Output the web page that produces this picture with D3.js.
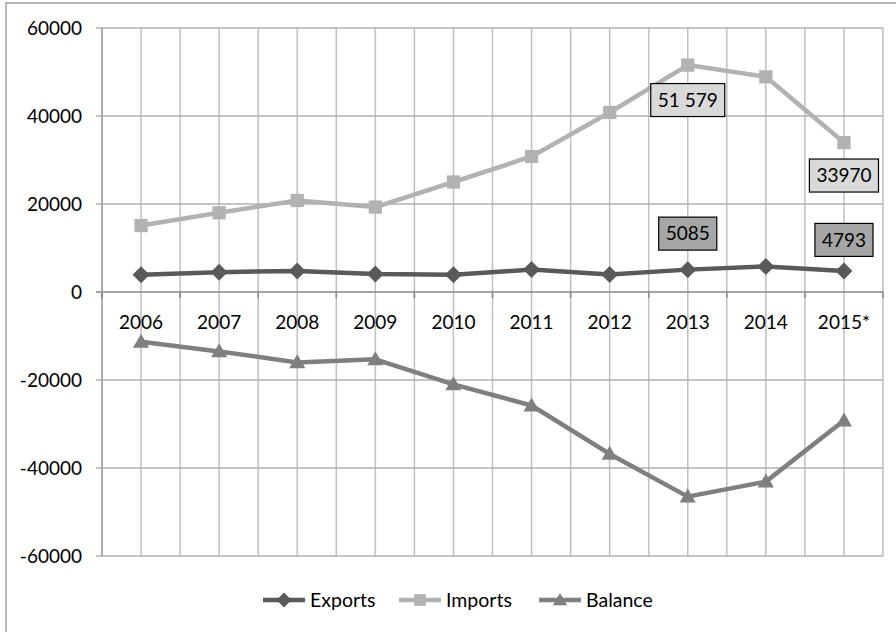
<!DOCTYPE html>
<html>
<head>
<meta charset="utf-8">
<script src="https://d3js.org/d3.v7.min.js"></script>
<style>
  body { margin: 0; background: #fff; }
  text { font-family: Lato, "Open Sans", sans-serif; fill: #000; }
</style>
</head>
<body>
<div id="chart"></div>
<script>
// data
years = ["2006","2007","2008","2009","2010","2011","2012","2013","2014","2015*"]
exports_ = [3900, 4500, 4800, 4100, 3900, 5100, 4000, 5085, 5800, 4793]
imports_ = [15100, 18000, 20800, 19300, 25000, 30800, 40800, 51579, 48900, 33970]
balance = [-11300, -13500, -16000, -15300, -21000, -25800, -36800, -46500, -43100, -29200]
yTicks = [-60000, -40000, -20000, 0, 20000, 40000, 60000]
// value labels: series, year index, text, offset above/below
labels = [
  {s: "Imports", i: 7, t: "51 579", dy: 35},
  {s: "Imports", i: 9, t: "33970", dy: 33},
  {s: "Exports", i: 7, t: "5085", dy: -36},
  {s: "Exports", i: 9, t: "4793", dy: -31}
]

width = 896
height = 632

svg = d3.select('#chart')
  .append('svg')
  .attr('width', width)
  .attr('height', height)

// outer frame
svg.append('rect')
  .attr('x', 6).attr('y', 3)
  .attr('width', 900).attr('height', 640)
  .attr('fill', 'none')
  .attr('stroke', '#a0a0a0')
  .attr('stroke-width', 1.5)

x = d3.scaleBand().domain(years).range([102, 883])
y = d3.scaleLinear().domain([-60000, 60000]).range([556, 28])
cx = d => x(d) + x.bandwidth() / 2

series = [
  {name: "Exports", values: exports_, color: "#595959", marker: "diamond"},
  {name: "Imports", values: imports_, color: "#b2b2b2", marker: "square"},
  {name: "Balance", values: balance, color: "#7f7f7f", marker: "triangle"}
]

grid = svg.append('g')

// vertical grid at band edges and centers
vlines = []
years.forEach(d => { vlines.push(x(d)); vlines.push(cx(d)) })
vlines.push(x.range()[1])
grid.selectAll('.v').data(vlines).enter().append('line')
  .attr('x1', d => d).attr('x2', d => d)
  .attr('y1', y(60000)).attr('y2', y(-60000))
  .attr('stroke', '#c0c0c0').attr('stroke-width', 1.5)

// horizontal grid
grid.selectAll('.h').data(yTicks).enter().append('line')
  .attr('x1', 96).attr('x2', 883)
  .attr('y1', d => y(d)).attr('y2', d => y(d))
  .attr('stroke', d => d == 0 ? '#878787' : '#b0b0b0')
  .attr('stroke-width', 1.5)

// y axis line
grid.append('line')
  .attr('x1', 102).attr('x2', 102)
  .attr('y1', y(60000)).attr('y2', y(-60000))
  .attr('stroke', '#a0a0a0').attr('stroke-width', 1.5)

// x-axis ticks at band edges
edges = years.map(d => x(d)).concat([x.range()[1]])
grid.selectAll('.t').data(edges).enter().append('line')
  .attr('x1', d => d).attr('x2', d => d)
  .attr('y1', y(0)).attr('y2', y(0) + 6)
  .attr('stroke', '#878787').attr('stroke-width', 1.5)

// y tick labels
svg.selectAll('.yl').data(yTicks).enter().append('text')
  .attr('x', 82)
  .attr('y', d => y(d))
  .attr('dy', '0.36em')
  .attr('text-anchor', 'end')
  .style('font-size', '19px')
  .text(d => d)

// x labels
svg.selectAll('.xl').data(years).enter().append('text')
  .attr('x', d => cx(d))
  .attr('y', y(0) + 30)
  .attr('dy', '0.36em')
  .attr('text-anchor', 'middle')
  .style('font-size', '19px')
  .text(d => d)

function marker(g, type, color, s) {
  if (type == "diamond") {
    g.append('path').attr('d', `M0,${-s}L${s},0L0,${s}L${-s},0Z`).attr('fill', color)
  } else if (type == "square") {
    g.append('rect').attr('x', -s * 0.78).attr('y', -s * 0.78)
      .attr('width', s * 1.56).attr('height', s * 1.56).attr('fill', color)
  } else {
    g.append('path').attr('d', `M0,${-s * 0.95}L${s * 0.95},${s * 0.7}L${-s * 0.95},${s * 0.7}Z`).attr('fill', color)
  }
}

line = d3.line().x((d, i) => cx(years[i])).y(d => y(d))

series.forEach(s => {
  svg.append('path')
    .attr('d', line(s.values))
    .attr('fill', 'none')
    .attr('stroke', s.color)
    .attr('stroke-width', 4.5)
    .attr('stroke-linejoin', 'round')
  s.values.forEach((v, i) => {
    g = svg.append('g').attr('transform', `translate(${cx(years[i])},${y(v)})`)
    marker(g, s.marker, s.color, 8.5)
  })
})

// data labels
labels.forEach(l => {
  s = series.find(d => d.name == l.s)
  px = cx(years[l.i])
  py = y(s.values[l.i]) + l.dy
  g = svg.append('g').attr('transform', `translate(${px},${py})`)
  t = g.append('text')
    .attr('text-anchor', 'middle')
    .attr('dy', '0.36em')
    .style('font-size', '19px')
    .text(l.t)
  w = t.node().getComputedTextLength() + 14
  g.insert('rect', 'text')
    .attr('x', -w / 2).attr('y', -16.5)
    .attr('width', w).attr('height', 33)
    .attr('fill', l.s == "Imports" ? '#d9d9d9' : '#a6a6a6')
    .attr('stroke', '#000').attr('stroke-width', 1.2)
})

// legend
legX = [263, 399, 539]
series.forEach((s, i) => {
  g = svg.append('g').attr('transform', `translate(${legX[i]},600)`)
  g.append('line').attr('x1', 0).attr('x2', 42).attr('y1', 0).attr('y2', 0)
    .attr('stroke', s.color).attr('stroke-width', 4.5)
  gm = g.append('g').attr('transform', 'translate(21,0)')
  marker(gm, s.marker, s.color, 7.5)
  g.append('text')
    .attr('x', 47).attr('dy', '0.36em')
    .style('font-size', '19.5px')
    .text(s.name)
})
</script>
</body>
</html>
